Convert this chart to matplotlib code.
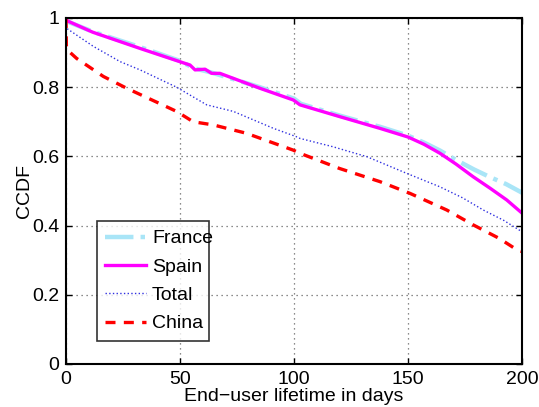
import matplotlib
matplotlib.use("Agg")
import matplotlib.pyplot as plt

plt.rcParams['font.family'] = ['Liberation Sans', 'DejaVu Sans']

# values (days, CCDF)
spain_days = [0, 0.5, 11.7, 32.5, 54.4, 56.6, 61, 63.9, 67.5, 85, 99.7, 102.6, 120, 137.7, 150, 157, 164, 171, 178.6, 186, 193.3, 200]
spain_ccdf = [1.0, 0.992, 0.959, 0.912, 0.864, 0.850, 0.852, 0.840, 0.840, 0.797, 0.763, 0.749, 0.715, 0.681, 0.656, 0.635, 0.609, 0.578, 0.541, 0.508, 0.474, 0.436]

france_days = [0, 0.5, 12, 32, 50, 56, 64, 85, 100, 103, 120, 138, 150, 157, 164, 171, 179, 186, 193, 200]
france_ccdf = [1.0, 0.99, 0.96, 0.917, 0.876, 0.855, 0.842, 0.80, 0.767, 0.752, 0.718, 0.685, 0.66, 0.64, 0.617, 0.59, 0.562, 0.54, 0.52, 0.495]

total_days = [0, 0.3, 12, 23.7, 32.5, 48.5, 61.7, 73.4, 91, 101, 102.6, 117, 132, 149.4, 164, 174, 183, 192, 200]
total_ccdf = [1.0, 0.97, 0.918, 0.874, 0.850, 0.800, 0.749, 0.730, 0.681, 0.657, 0.652, 0.628, 0.599, 0.551, 0.512, 0.480, 0.445, 0.415, 0.382]

china_days = [0, 0.2, 4.7, 16.4, 26.6, 41, 48.5, 55.8, 64.6, 79, 99.7, 102.6, 120, 137.7, 150.9, 167, 178.6, 190, 198, 200]
china_ccdf = [1.0, 0.910, 0.883, 0.831, 0.797, 0.753, 0.730, 0.700, 0.691, 0.667, 0.618, 0.609, 0.565, 0.527, 0.493, 0.445, 0.402, 0.363, 0.329, 0.325]

xticks = [0, 50, 100, 150, 200]
yticks = [0, 0.2, 0.4, 0.6, 0.8, 1]
yticklabels = ['0', '0.2', '0.4', '0.6', '0.8', '1']

fig = plt.figure(figsize=(5.39, 4.07), dpi=100)
ax = fig.add_axes([0.1224, 0.1057, 0.8461, 0.8501])

ax.plot(france_days, france_ccdf, color='#a9e5f7', lw=3.2, ls='-.', label='France')
ax.plot(spain_days, spain_ccdf, color='#ff00ff', lw=2.4, ls='-', label='Spain')
ax.plot(total_days, total_ccdf, color='#3030e0', lw=1.0, ls=':', label='Total')
ax.plot(china_days, china_ccdf, color='#ff0000', lw=2.4, ls=(0, (3, 2.5)), label='China')

ax.set_xlim(0, 200)
ax.set_ylim(0, 1)
ax.set_xticks(xticks)
ax.set_yticks(yticks)
ax.set_yticklabels(yticklabels)
ax.tick_params(direction='in', top=True, right=True, labelsize=14, length=4, width=1, pad=5)
ax.grid(True, ls=(0, (1, 3)), color='#666666', lw=0.9)
for s in ax.spines.values():
    s.set_linewidth(1.5)

ax.set_xlabel('End\u2212user lifetime in days', fontsize=14, labelpad=0)
ax.set_ylabel('CCDF', fontsize=14, labelpad=-1)

leg = ax.legend(loc='lower left', bbox_to_anchor=(0.067, 0.066, 0.247, 0.34), mode='expand',
                fontsize=14, frameon=True, fancybox=False, edgecolor='black',
                handlelength=2.1, handletextpad=0.3, labelspacing=0.55, borderpad=0.45,
                borderaxespad=0)
leg.get_frame().set_linewidth(1.2)

fig.savefig('out.png', dpi=100)
